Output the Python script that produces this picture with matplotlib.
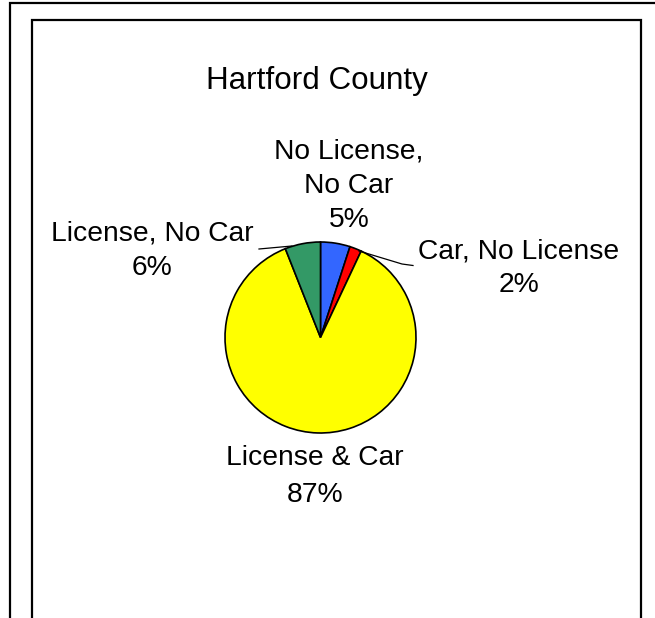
import matplotlib
matplotlib.use("Agg")
import matplotlib.pyplot as plt
from matplotlib.patches import Rectangle

title = "Hartford County"
categories = ["No License,\nNo Car", "Car, No License", "License & Car", "License, No Car"]
values = [5, 2, 87, 6]
colors = ["#3366FF", "#FF0000", "#FFFF00", "#339966"]

W, H = 655, 618
fig = plt.figure(figsize=(W / 100, H / 100), dpi=100)
ax = fig.add_axes([0, 0, 1, 1])
ax.set_xlim(0, W)
ax.set_ylim(0, H)
ax.set_aspect("equal")
ax.axis("off")

def Y(y):
    return H - y

FONT = "Liberation Sans"

# frames
ax.add_patch(Rectangle((10, Y(700)), 700, 697, fill=False, ec="black", lw=1.6))
ax.add_patch(Rectangle((32, Y(700)), 641 - 32, 680, fill=False, ec="black", lw=1.6))

# pie
cx, cy, r = 320.5, 337.5, 95.5
ax.pie(values, colors=colors, startangle=90, counterclock=False,
       center=(cx, Y(cy)), radius=r, frame=True,
       wedgeprops=dict(edgecolor="black", linewidth=1.2))
ax.set_xlim(0, W)
ax.set_ylim(0, H)
ax.axis("off")

# title
ax.text(317, Y(88.5), title, ha="center", va="baseline", fontsize=22.6, family=FONT)

# labels (line by line)
label_pos = [(349, [158.5, 193]), (519, [258, ]), (315, [465]), (152, [241])]
pct_pos = [227, 292, 502, 275]
for (x, ys), cat, v, py in zip(label_pos, categories, values, pct_pos):
    lines = cat.split("\n")
    for ln, yy in zip(lines, ys):
        ax.text(x, Y(yy), ln, ha="center", va="baseline", fontsize=20.3, family=FONT)
    ax.text(x, Y(py), f"{v}%", ha="center", va="baseline", fontsize=20.3, family=FONT)

# leader lines
ax.plot([259, 292], [Y(249), Y(246)], color="black", lw=0.9)
ax.plot([359, 402, 413], [Y(251), Y(264), Y(265.5)], color="black", lw=0.9)

fig.savefig("out.png", dpi=100)
